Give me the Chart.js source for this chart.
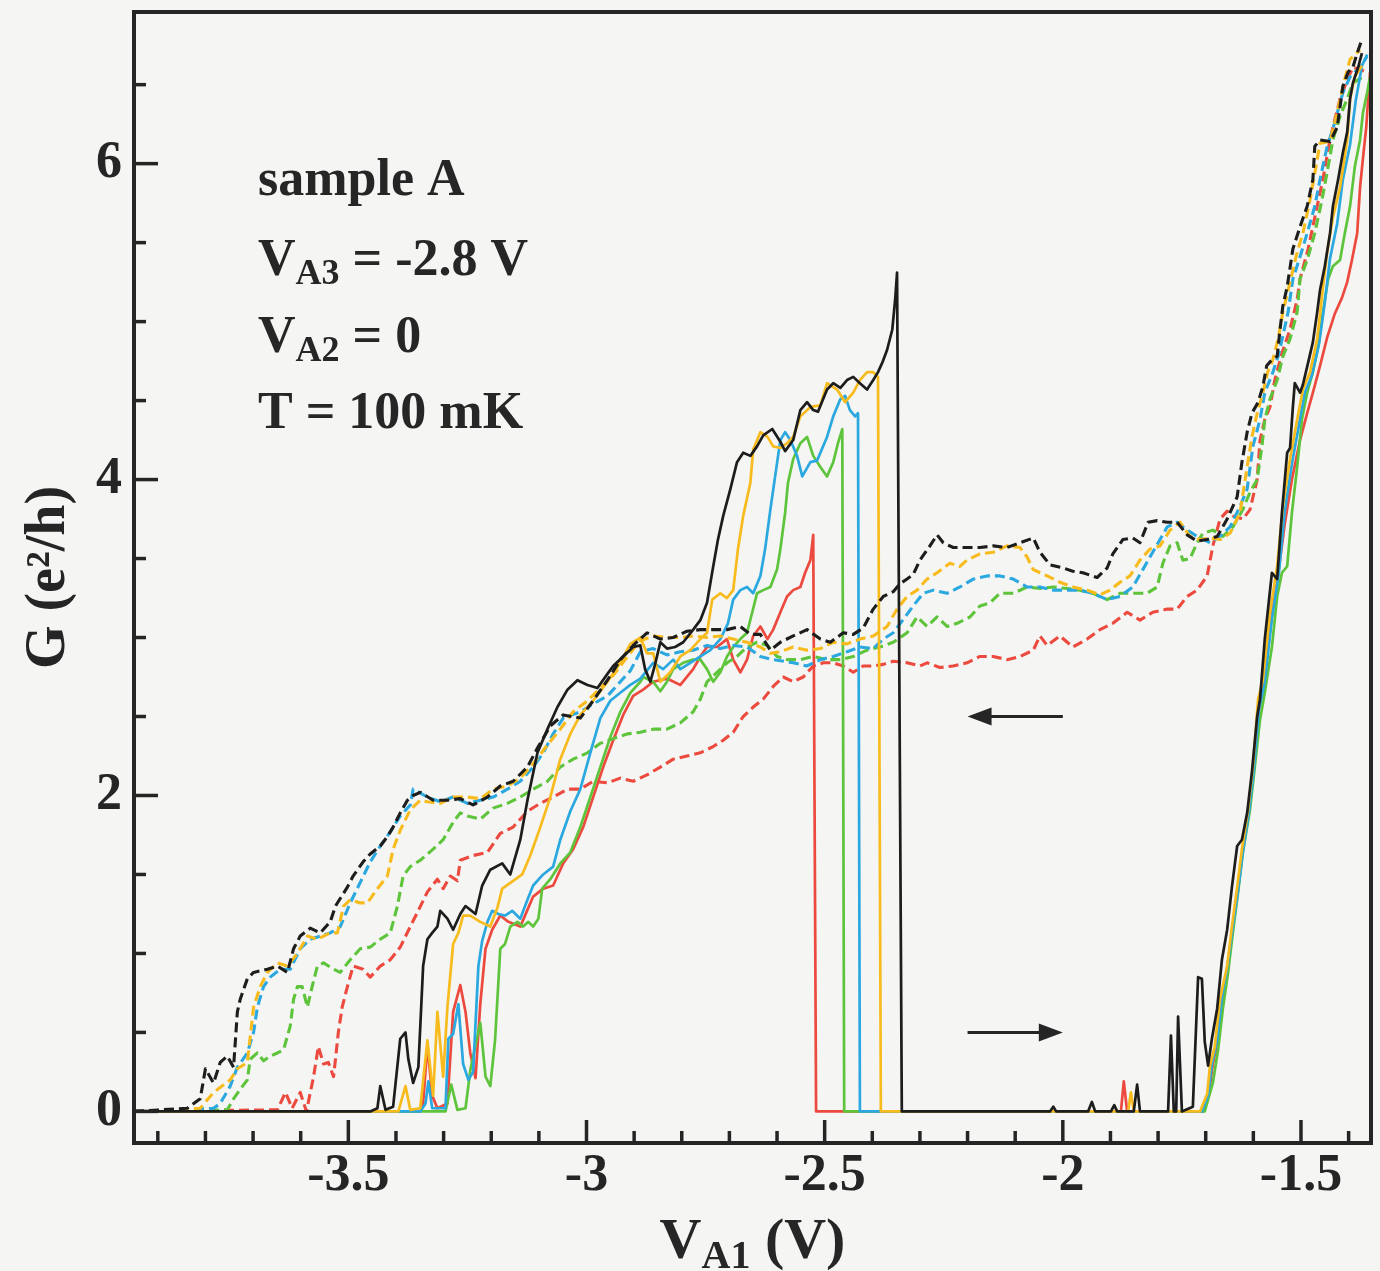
<!DOCTYPE html>
<html><head><meta charset="utf-8">
<script src="https://cdn.jsdelivr.net/npm/chart.js@4.4.1/dist/chart.umd.min.js"></script>
<style>
html,body{margin:0;padding:0;background:#f5f5f3;}
#wrap{width:1380px;height:1271px;}
canvas{display:block;}
</style></head><body>
<div id="wrap"><canvas id="c" width="1380" height="1271"></canvas></div>
<script>
// ---------- tick values ----------
const xTickLabels = [-3.5, -3, -2.5, -2, -1.5];
const xMinorTicks = [-3.9,-3.8,-3.7,-3.6,-3.4,-3.3,-3.2,-3.1,-2.9,-2.8,-2.7,-2.6,-2.4,-2.3,-2.2,-2.1,-1.9,-1.8,-1.7,-1.6,-1.4];
const yTickLabels = [0, 2, 4, 6];
const yMinorTicks = [0.5,1,1.5,2.5,3,3.5,4.5,5,5.5,6.5];

// ---------- series: forward sweeps (solid) ----------
const blackSolidX = [-3.95,-3.454,-3.439,-3.433,-3.422,-3.406,-3.391,-3.380,-3.374,-3.364,-3.353,-3.343,-3.334,-3.324,-3.313,-3.307,-3.292,-3.280,-3.265,-3.254,-3.233,-3.219,-3.202,-3.177,-3.160,-3.139,-3.124,-3.103,-3.082,-3.061,-3.040,-3.019,-2.998,-2.977,-2.956,-2.944,-2.923,-2.902,-2.887,-2.877,-2.866,-2.856,-2.845,-2.831,-2.814,-2.797,-2.776,-2.761,-2.747,-2.734,-2.724,-2.713,-2.698,-2.684,-2.671,-2.656,-2.642,-2.629,-2.610,-2.593,-2.583,-2.566,-2.551,-2.537,-2.524,-2.514,-2.495,-2.482,-2.467,-2.453,-2.440,-2.426,-2.411,-2.398,-2.388,-2.379,-2.369,-2.358,-2.352,-2.348,-2.338,-2.027,-2.020,-2.014,-1.947,-1.939,-1.932,-1.899,-1.892,-1.886,-1.851,-1.844,-1.838,-1.779,-1.773,-1.767,-1.762,-1.758,-1.750,-1.727,-1.716,-1.708,-1.702,-1.695,-1.687,-1.676,-1.666,-1.655,-1.645,-1.634,-1.624,-1.613,-1.603,-1.592,-1.586,-1.576,-1.561,-1.550,-1.540,-1.529,-1.523,-1.517,-1.513,-1.502,-1.496,-1.485,-1.475,-1.466,-1.460,-1.450,-1.439,-1.433,-1.422,-1.412,-1.403,-1.397,-1.391,-1.380,-1.372];
const blackSolidY = [0,0,0.02,0.16,0.01,0.03,0.46,0.50,0.33,0.18,0.28,0.92,1.09,1.13,1.17,1.27,1.22,1.15,1.25,1.30,1.25,1.43,1.53,1.57,1.50,1.72,1.97,2.27,2.42,2.56,2.67,2.73,2.70,2.68,2.77,2.82,2.88,2.94,2.95,2.80,2.72,2.83,2.97,2.93,2.94,2.97,3.05,3.11,3.22,3.45,3.62,3.77,3.94,4.11,4.17,4.15,4.21,4.28,4.32,4.24,4.18,4.25,4.44,4.49,4.44,4.43,4.57,4.61,4.58,4.63,4.65,4.61,4.57,4.63,4.68,4.74,4.82,4.95,5.14,5.31,0,0,0.03,0,0,0.06,0,0,0.04,0,0,0.17,0,0,0.48,0,0,0.60,0,0.03,0.85,0.84,0.44,0.29,0.46,0.65,0.96,1.15,1.42,1.68,1.72,1.89,2.15,2.50,2.61,2.99,3.41,3.37,3.79,4.17,4.20,4.46,4.61,4.55,4.60,4.74,4.87,5.06,5.20,5.35,5.56,5.73,5.90,6.07,6.20,6.41,6.51,6.61,6.70];

const yellowSolidX = [-3.95,-3.395,-3.380,-3.370,-3.349,-3.334,-3.322,-3.313,-3.301,-3.292,-3.280,-3.269,-3.259,-3.244,-3.223,-3.202,-3.187,-3.177,-3.154,-3.135,-3.118,-3.097,-3.076,-3.055,-3.034,-3.013,-2.986,-2.956,-2.929,-2.908,-2.887,-2.873,-2.860,-2.845,-2.824,-2.803,-2.782,-2.761,-2.747,-2.736,-2.719,-2.705,-2.692,-2.682,-2.671,-2.656,-2.650,-2.635,-2.620,-2.608,-2.593,-2.579,-2.566,-2.551,-2.530,-2.509,-2.495,-2.474,-2.457,-2.440,-2.426,-2.411,-2.398,-2.388,-2.382,-1.863,-1.857,-1.851,-1.712,-1.697,-1.691,-1.681,-1.670,-1.655,-1.645,-1.634,-1.624,-1.611,-1.601,-1.590,-1.580,-1.565,-1.550,-1.538,-1.523,-1.508,-1.496,-1.481,-1.466,-1.456,-1.445,-1.433,-1.418,-1.403,-1.397,-1.387,-1.372];
const yellowSolidY = [0,0,0.16,0.01,0.02,0.45,0.10,0.63,0.22,0.66,1.06,1.13,1.24,1.24,1.20,1.17,1.29,1.41,1.46,1.50,1.62,1.80,1.99,2.23,2.39,2.51,2.60,2.72,2.84,2.96,3.00,2.90,2.90,2.72,2.78,2.88,2.92,2.99,3.03,3.24,3.28,3.25,3.30,3.56,3.77,3.98,4.19,4.30,4.27,4.21,4.20,4.23,4.27,4.40,4.46,4.47,4.61,4.57,4.49,4.55,4.63,4.68,4.68,4.65,0,0,0.12,0,0,0.11,0.29,0.41,0.71,0.92,1.17,1.42,1.66,1.91,2.18,2.61,2.73,3.16,3.45,3.83,4.13,4.38,4.57,4.68,4.89,5.16,5.44,5.66,5.85,6.15,6.41,6.55,6.62];

const cyanSolidX = [-3.95,-3.349,-3.338,-3.332,-3.324,-3.296,-3.290,-3.280,-3.269,-3.259,-3.248,-3.238,-3.227,-3.219,-3.208,-3.198,-3.185,-3.171,-3.156,-3.139,-3.124,-3.112,-3.091,-3.070,-3.055,-3.034,-3.013,-2.992,-2.971,-2.950,-2.929,-2.908,-2.887,-2.860,-2.839,-2.818,-2.803,-2.782,-2.761,-2.740,-2.719,-2.703,-2.692,-2.677,-2.663,-2.650,-2.635,-2.625,-2.614,-2.604,-2.593,-2.583,-2.572,-2.558,-2.547,-2.530,-2.516,-2.495,-2.482,-2.467,-2.457,-2.447,-2.436,-2.430,-2.426,-1.708,-1.695,-1.687,-1.676,-1.666,-1.653,-1.643,-1.632,-1.622,-1.609,-1.599,-1.588,-1.576,-1.561,-1.546,-1.534,-1.519,-1.504,-1.492,-1.477,-1.462,-1.450,-1.439,-1.424,-1.412,-1.397,-1.385,-1.372,-1.361];
const cyanSolidY = [0,0,0.05,0.19,0.02,0.02,0.46,0.49,0.68,0.30,0.20,0.25,0.92,1.08,1.20,1.27,1.25,1.24,1.27,1.22,1.34,1.43,1.50,1.55,1.72,1.90,2.04,2.27,2.49,2.60,2.65,2.70,2.74,2.84,2.80,2.86,2.80,2.84,2.88,2.92,2.99,3.09,3.24,3.30,3.32,3.28,3.39,3.56,3.81,4.02,4.25,4.30,4.25,4.15,4.02,4.11,4.12,4.27,4.40,4.51,4.53,4.44,4.40,4.42,0,0,0.10,0.30,0.45,0.72,0.94,1.17,1.40,1.64,1.90,2.16,2.55,2.72,3.12,3.42,3.80,4.10,4.35,4.55,4.66,4.86,5.12,5.40,5.62,5.90,6.12,6.40,6.62,6.69];

const greenSolidX = [-3.95,-3.296,-3.284,-3.271,-3.254,-3.244,-3.233,-3.223,-3.212,-3.202,-3.192,-3.181,-3.171,-3.160,-3.145,-3.133,-3.122,-3.112,-3.101,-3.093,-3.076,-3.055,-3.034,-3.013,-2.992,-2.971,-2.950,-2.929,-2.908,-2.887,-2.881,-2.860,-2.845,-2.831,-2.818,-2.797,-2.776,-2.761,-2.747,-2.734,-2.719,-2.705,-2.692,-2.677,-2.663,-2.652,-2.642,-2.629,-2.614,-2.600,-2.593,-2.583,-2.577,-2.566,-2.551,-2.537,-2.524,-2.509,-2.495,-2.482,-2.472,-2.463,-2.459,-1.702,-1.685,-1.674,-1.664,-1.653,-1.643,-1.632,-1.622,-1.607,-1.597,-1.586,-1.576,-1.561,-1.550,-1.540,-1.529,-1.519,-1.508,-1.498,-1.487,-1.475,-1.464,-1.454,-1.443,-1.433,-1.418,-1.408,-1.397,-1.387,-1.376,-1.370,-1.361,-1.355];
const greenSolidY = [0,0,0.17,0.01,0.02,0.26,0.42,0.56,0.22,0.16,0.45,1.03,1.06,1.17,1.20,1.17,1.20,1.17,1.22,1.41,1.47,1.57,1.64,1.80,1.99,2.18,2.37,2.53,2.65,2.72,2.75,2.72,2.66,2.72,2.80,2.84,2.86,2.86,2.80,2.72,2.78,2.88,2.94,2.99,3.03,3.16,3.28,3.30,3.32,3.43,3.56,3.79,3.98,4.13,4.23,4.27,4.15,4.08,4.02,4.11,4.23,4.32,0,0,0.18,0.39,0.65,0.88,1.13,1.39,1.64,1.91,2.18,2.48,2.65,2.94,3.26,3.41,3.45,3.79,4.08,4.38,4.55,4.68,4.84,5.06,5.27,5.35,5.39,5.56,5.73,5.98,6.15,6.32,6.45,6.55];

const redSolidX = [-3.95,-3.349,-3.343,-3.334,-3.324,-3.313,-3.292,-3.280,-3.265,-3.254,-3.244,-3.233,-3.223,-3.212,-3.198,-3.181,-3.164,-3.139,-3.112,-3.091,-3.070,-3.049,-3.028,-3.007,-2.986,-2.965,-2.944,-2.923,-2.902,-2.881,-2.860,-2.831,-2.803,-2.776,-2.761,-2.747,-2.726,-2.705,-2.692,-2.677,-2.663,-2.650,-2.635,-2.620,-2.608,-2.593,-2.579,-2.566,-2.551,-2.541,-2.530,-2.524,-2.518,-1.878,-1.872,-1.865,-1.706,-1.693,-1.685,-1.674,-1.664,-1.653,-1.643,-1.632,-1.622,-1.609,-1.599,-1.588,-1.576,-1.563,-1.548,-1.534,-1.519,-1.502,-1.487,-1.475,-1.460,-1.445,-1.429,-1.414,-1.403,-1.393,-1.382,-1.376,-1.370,-1.363,-1.359,-1.355];
const redSolidY = [0,0,0.05,0.42,0.10,0.02,0.05,0.63,0.80,0.63,0.37,0.21,0.68,1.03,1.15,1.24,1.20,1.17,1.36,1.41,1.43,1.57,1.66,1.80,1.99,2.18,2.35,2.51,2.63,2.67,2.72,2.74,2.70,2.80,2.88,2.94,2.94,2.99,2.86,2.78,2.86,3.01,3.07,2.99,3.05,3.16,3.26,3.30,3.32,3.41,3.49,3.65,0,0,0.19,0,0,0.12,0.30,0.45,0.72,0.95,1.18,1.42,1.66,1.92,2.18,2.55,2.75,3.10,3.40,3.72,4.00,4.25,4.42,4.55,4.72,4.90,5.05,5.15,5.25,5.39,5.56,5.85,6.03,6.23,6.41,6.58];

// ---------- series: reverse sweeps (dashed) ----------
const blackDashX = [-3.95,-3.838,-3.811,-3.800,-3.783,-3.769,-3.754,-3.741,-3.733,-3.727,-3.712,-3.699,-3.670,-3.649,-3.628,-3.615,-3.601,-3.580,-3.559,-3.538,-3.527,-3.502,-3.490,-3.469,-3.454,-3.433,-3.418,-3.406,-3.391,-3.376,-3.364,-3.349,-3.322,-3.292,-3.265,-3.238,-3.208,-3.181,-3.154,-3.124,-3.103,-3.076,-3.049,-3.013,-2.986,-2.956,-2.929,-2.902,-2.873,-2.845,-2.818,-2.789,-2.761,-2.734,-2.705,-2.677,-2.656,-2.635,-2.614,-2.593,-2.566,-2.537,-2.509,-2.488,-2.461,-2.440,-2.419,-2.398,-2.377,-2.356,-2.342,-2.327,-2.314,-2.300,-2.279,-2.264,-2.251,-2.230,-2.201,-2.174,-2.146,-2.117,-2.090,-2.062,-2.048,-2.027,-1.999,-1.979,-1.958,-1.928,-1.907,-1.895,-1.874,-1.853,-1.838,-1.821,-1.802,-1.781,-1.760,-1.739,-1.718,-1.697,-1.676,-1.655,-1.643,-1.634,-1.624,-1.613,-1.603,-1.590,-1.580,-1.572,-1.561,-1.550,-1.544,-1.538,-1.529,-1.517,-1.502,-1.487,-1.475,-1.471,-1.460,-1.439,-1.424,-1.418,-1.412,-1.401,-1.391,-1.382,-1.374];
const blackDashY = [0,0.02,0.08,0.27,0.18,0.31,0.35,0.28,0.63,0.71,0.84,0.88,0.90,0.92,0.88,1.03,1.11,1.16,1.13,1.20,1.30,1.42,1.49,1.58,1.63,1.68,1.74,1.80,1.89,1.97,2.00,2.02,1.97,1.97,1.98,1.94,1.99,2.06,2.09,2.18,2.30,2.44,2.51,2.49,2.60,2.73,2.86,2.95,3.03,2.99,3.00,3.04,3.05,3.05,3.05,3.07,3.02,3.02,2.92,2.97,3.01,3.05,2.99,2.97,3.03,3.02,3.06,3.18,3.26,3.29,3.34,3.37,3.40,3.49,3.58,3.65,3.60,3.57,3.57,3.57,3.58,3.57,3.60,3.63,3.54,3.46,3.44,3.42,3.41,3.38,3.44,3.53,3.62,3.63,3.60,3.73,3.74,3.73,3.73,3.65,3.61,3.62,3.64,3.75,3.83,3.89,4.11,4.30,4.42,4.49,4.59,4.72,4.76,4.78,4.95,5.10,5.22,5.46,5.60,5.73,5.90,6.11,6.15,6.14,6.23,6.36,6.49,6.58,6.61,6.70,6.77];

const yellowDashX = [-3.95,-3.811,-3.783,-3.748,-3.733,-3.712,-3.699,-3.685,-3.670,-3.649,-3.628,-3.607,-3.586,-3.565,-3.538,-3.523,-3.510,-3.496,-3.475,-3.460,-3.439,-3.418,-3.406,-3.391,-3.370,-3.349,-3.334,-3.307,-3.280,-3.250,-3.223,-3.196,-3.166,-3.139,-3.112,-3.082,-3.055,-3.028,-2.998,-2.971,-2.944,-2.914,-2.887,-2.860,-2.831,-2.803,-2.776,-2.747,-2.719,-2.692,-2.663,-2.635,-2.614,-2.593,-2.566,-2.537,-2.509,-2.482,-2.453,-2.426,-2.398,-2.369,-2.348,-2.327,-2.306,-2.285,-2.264,-2.237,-2.216,-2.201,-2.174,-2.146,-2.117,-2.090,-2.075,-2.062,-2.033,-2.006,-1.979,-1.949,-1.922,-1.901,-1.880,-1.859,-1.838,-1.817,-1.796,-1.775,-1.754,-1.733,-1.712,-1.691,-1.670,-1.649,-1.628,-1.613,-1.603,-1.592,-1.580,-1.570,-1.559,-1.548,-1.538,-1.523,-1.508,-1.496,-1.481,-1.471,-1.460,-1.439,-1.424,-1.412,-1.397,-1.376];
const yellowDashY = [0,0.02,0.12,0.20,0.27,0.31,0.66,0.79,0.88,0.94,0.92,1.00,1.11,1.09,1.13,1.13,1.30,1.34,1.32,1.32,1.41,1.49,1.66,1.78,1.91,1.97,1.96,1.95,1.99,1.99,1.98,2.04,2.06,2.11,2.20,2.32,2.42,2.53,2.60,2.68,2.76,2.88,2.98,3.01,3.00,3.00,3.01,3.00,3.01,2.99,2.97,2.94,2.90,2.91,2.94,2.92,2.93,2.97,2.96,2.99,3.01,3.07,3.18,3.26,3.30,3.37,3.41,3.47,3.45,3.49,3.53,3.54,3.58,3.57,3.51,3.43,3.39,3.35,3.32,3.30,3.27,3.30,3.35,3.39,3.49,3.56,3.58,3.68,3.73,3.64,3.62,3.63,3.62,3.66,3.79,4.08,4.27,4.42,4.55,4.68,4.76,4.89,5.06,5.25,5.44,5.56,5.77,5.94,6.13,6.14,6.32,6.49,6.66,6.72];

const cyanDashX = [-3.95,-3.783,-3.769,-3.748,-3.733,-3.712,-3.699,-3.691,-3.678,-3.664,-3.643,-3.622,-3.601,-3.580,-3.559,-3.538,-3.517,-3.496,-3.475,-3.454,-3.433,-3.412,-3.391,-3.370,-3.364,-3.334,-3.307,-3.280,-3.250,-3.223,-3.196,-3.166,-3.139,-3.112,-3.091,-3.070,-3.049,-3.013,-2.986,-2.956,-2.929,-2.908,-2.887,-2.860,-2.831,-2.803,-2.776,-2.747,-2.719,-2.692,-2.663,-2.635,-2.608,-2.566,-2.537,-2.509,-2.482,-2.453,-2.426,-2.398,-2.377,-2.356,-2.336,-2.314,-2.293,-2.272,-2.243,-2.216,-2.188,-2.159,-2.132,-2.104,-2.075,-2.048,-2.020,-1.991,-1.964,-1.937,-1.907,-1.880,-1.853,-1.832,-1.817,-1.796,-1.781,-1.760,-1.739,-1.718,-1.691,-1.670,-1.649,-1.628,-1.613,-1.601,-1.586,-1.576,-1.559,-1.548,-1.538,-1.527,-1.517,-1.502,-1.487,-1.471,-1.460,-1.445,-1.433,-1.412,-1.397,-1.376,-1.361];
const cyanDashY = [0,0.02,0.05,0.16,0.28,0.37,0.50,0.66,0.79,0.85,0.90,0.90,1.03,1.09,1.11,1.13,1.17,1.32,1.45,1.58,1.68,1.77,1.87,1.94,2.04,1.99,1.96,1.99,1.95,1.97,1.99,2.04,2.09,2.18,2.27,2.39,2.49,2.53,2.58,2.63,2.72,2.79,2.91,2.93,2.89,2.91,2.92,2.95,2.93,2.95,2.94,2.88,2.86,2.84,2.82,2.86,2.88,2.91,2.94,2.93,2.99,3.03,3.11,3.20,3.28,3.30,3.28,3.32,3.37,3.39,3.39,3.37,3.32,3.32,3.30,3.30,3.30,3.28,3.24,3.26,3.32,3.43,3.51,3.62,3.70,3.73,3.68,3.64,3.60,3.64,3.70,3.83,3.94,4.21,4.38,4.55,4.68,4.78,4.91,5.06,5.27,5.41,5.56,5.73,5.90,6.11,6.22,6.45,6.55,6.61,6.68];

const greenDashX = [-3.95,-3.754,-3.741,-3.727,-3.712,-3.706,-3.691,-3.678,-3.664,-3.649,-3.636,-3.622,-3.615,-3.607,-3.597,-3.586,-3.576,-3.565,-3.552,-3.531,-3.517,-3.496,-3.475,-3.454,-3.433,-3.412,-3.397,-3.385,-3.370,-3.349,-3.322,-3.301,-3.280,-3.265,-3.250,-3.223,-3.196,-3.166,-3.139,-3.112,-3.082,-3.055,-3.028,-2.998,-2.971,-2.944,-2.914,-2.887,-2.860,-2.831,-2.803,-2.776,-2.761,-2.747,-2.726,-2.705,-2.684,-2.663,-2.642,-2.620,-2.600,-2.579,-2.551,-2.524,-2.495,-2.467,-2.440,-2.411,-2.384,-2.356,-2.327,-2.306,-2.285,-2.264,-2.243,-2.222,-2.195,-2.174,-2.153,-2.132,-2.104,-2.075,-2.048,-2.020,-1.991,-1.964,-1.937,-1.907,-1.880,-1.853,-1.823,-1.802,-1.790,-1.775,-1.760,-1.748,-1.733,-1.718,-1.706,-1.685,-1.664,-1.643,-1.622,-1.607,-1.592,-1.582,-1.576,-1.565,-1.550,-1.538,-1.523,-1.508,-1.502,-1.487,-1.471,-1.456,-1.443,-1.433,-1.418,-1.403,-1.391,-1.370];
const greenDashY = [0,0.01,0.08,0.14,0.20,0.33,0.37,0.32,0.35,0.37,0.39,0.54,0.71,0.79,0.79,0.66,0.79,0.92,0.94,0.90,0.88,0.96,1.03,1.04,1.09,1.13,1.30,1.49,1.55,1.59,1.66,1.72,1.83,1.89,1.87,1.85,1.92,1.95,1.99,2.04,2.09,2.18,2.23,2.27,2.33,2.36,2.39,2.40,2.42,2.42,2.46,2.53,2.61,2.72,2.78,2.84,2.88,2.94,2.97,2.95,2.88,2.86,2.86,2.88,2.86,2.86,2.88,2.92,2.94,2.97,3.03,3.13,3.07,3.13,3.07,3.09,3.13,3.20,3.22,3.28,3.28,3.32,3.31,3.32,3.31,3.30,3.28,3.24,3.28,3.28,3.28,3.32,3.47,3.58,3.60,3.49,3.50,3.60,3.66,3.68,3.64,3.70,3.81,3.92,4.00,4.21,4.38,4.51,4.63,4.78,4.89,5.06,5.27,5.39,5.56,5.77,5.98,6.15,6.30,6.41,6.51,6.55];

const redDashX = [-3.95,-3.649,-3.632,-3.618,-3.601,-3.588,-3.573,-3.563,-3.552,-3.542,-3.531,-3.521,-3.513,-3.502,-3.490,-3.469,-3.454,-3.433,-3.412,-3.391,-3.370,-3.355,-3.334,-3.313,-3.301,-3.286,-3.271,-3.265,-3.238,-3.208,-3.181,-3.154,-3.124,-3.097,-3.070,-3.040,-3.013,-2.986,-2.956,-2.929,-2.902,-2.873,-2.845,-2.818,-2.789,-2.761,-2.734,-2.713,-2.692,-2.671,-2.650,-2.629,-2.608,-2.587,-2.566,-2.545,-2.524,-2.503,-2.482,-2.461,-2.440,-2.419,-2.398,-2.377,-2.356,-2.327,-2.300,-2.285,-2.258,-2.230,-2.201,-2.174,-2.146,-2.117,-2.090,-2.062,-2.048,-2.033,-2.006,-1.979,-1.949,-1.922,-1.895,-1.865,-1.838,-1.811,-1.781,-1.760,-1.739,-1.718,-1.697,-1.685,-1.670,-1.655,-1.643,-1.622,-1.607,-1.592,-1.586,-1.576,-1.565,-1.555,-1.540,-1.523,-1.508,-1.502,-1.485,-1.471,-1.454,-1.443,-1.433,-1.418,-1.403,-1.391,-1.361];
const redDashY = [0,0.01,0.12,0.02,0.12,0.00,0.22,0.41,0.30,0.31,0.22,0.50,0.66,0.79,0.92,0.90,0.85,0.92,0.96,1.04,1.17,1.26,1.39,1.47,1.41,1.49,1.46,1.59,1.62,1.64,1.76,1.80,1.90,1.95,1.99,2.04,2.04,2.09,2.08,2.11,2.09,2.13,2.18,2.23,2.25,2.27,2.31,2.35,2.40,2.50,2.56,2.61,2.69,2.75,2.72,2.75,2.82,2.84,2.84,2.82,2.78,2.82,2.82,2.83,2.85,2.84,2.82,2.84,2.81,2.82,2.84,2.88,2.88,2.86,2.88,2.92,3.01,2.95,3.01,2.94,2.99,3.05,3.09,3.16,3.11,3.16,3.18,3.18,3.26,3.30,3.39,3.58,3.75,3.80,3.77,3.75,3.81,4.00,4.25,4.38,4.46,4.63,4.80,4.95,5.14,5.27,5.46,5.66,5.90,6.09,6.23,6.41,6.53,6.61,6.58];

// ---------- styling ----------
const COL = {black:'#1d1d1d', yellow:'#f8bb1e', cyan:'#2aa8df', green:'#5ec43b', red:'#ec4a3e'};
const INK = '#252525';
const SERIF = '"Liberation Serif", "Times New Roman", serif';
const DASH = [10, 5];

const series = [
  {x: blackSolidX, y: blackSolidY, c: COL.black, d: []},
  {x: blackDashX, y: blackDashY, c: COL.black, d: DASH},
  {x: yellowSolidX, y: yellowSolidY, c: COL.yellow, d: []},
  {x: yellowDashX, y: yellowDashY, c: COL.yellow, d: DASH},
  {x: cyanSolidX, y: cyanSolidY, c: COL.cyan, d: []},
  {x: cyanDashX, y: cyanDashY, c: COL.cyan, d: DASH},
  {x: greenSolidX, y: greenSolidY, c: COL.green, d: []},
  {x: greenDashX, y: greenDashY, c: COL.green, d: DASH},
  {x: redSolidX, y: redSolidY, c: COL.red, d: []},
  {x: redDashX, y: redDashY, c: COL.red, d: DASH}
];

const datasets = series.map(s => ({
  data: s.x.map((x, i) => ({x: x, y: s.y[i]})),
  borderColor: s.c,
  borderWidth: s.d.length ? 3.1 : 2.7,
  borderDash: s.d,
  pointRadius: 0,
  fill: false,
  tension: 0,
  borderJoinStyle: 'round',
  borderCapStyle: 'butt'
}));

function drawSubText(ctx, x, y, main, sub, rest, size, subSize, drop) {
  ctx.textAlign = 'left';
  ctx.textBaseline = 'alphabetic';
  ctx.font = 'bold ' + size + 'px ' + SERIF;
  ctx.fillText(main, x, y);
  x += ctx.measureText(main).width;
  if (sub) {
    ctx.font = 'bold ' + subSize + 'px ' + SERIF;
    ctx.fillText(sub, x, y + drop);
    x += ctx.measureText(sub).width;
  }
  if (rest) {
    ctx.font = 'bold ' + size + 'px ' + SERIF;
    ctx.fillText(rest, x, y);
  }
}
function measureSub(ctx, main, sub, rest, size, subSize) {
  ctx.font = 'bold ' + size + 'px ' + SERIF;
  let w = ctx.measureText(main).width + ctx.measureText(rest).width;
  ctx.font = 'bold ' + subSize + 'px ' + SERIF;
  return w + ctx.measureText(sub).width;
}

const decor = {
  id: 'decor',
  beforeDraw(chart) {
    const ctx = chart.ctx;
    ctx.save();
    ctx.fillStyle = '#f5f5f3';
    ctx.fillRect(0, 0, chart.width, chart.height);
    ctx.restore();
  },
  afterDatasetsDraw(chart) {
    const ctx = chart.ctx;
    const a = chart.chartArea;
    const xs = chart.scales.x, ys = chart.scales.y;
    ctx.save();
    ctx.strokeStyle = INK;
    ctx.fillStyle = INK;
    // frame
    ctx.lineWidth = 4;
    ctx.strokeRect(a.left, a.top, a.right - a.left, a.bottom - a.top);
    // inward ticks
    ctx.lineWidth = 3.5;
    ctx.lineCap = 'butt';
    const tk = (x1, y1, x2, y2) => { ctx.beginPath(); ctx.moveTo(x1, y1); ctx.lineTo(x2, y2); ctx.stroke(); };
    xTickLabels.forEach(v => { const p = xs.getPixelForValue(v); tk(p, a.bottom, p, a.bottom - 23); });
    xMinorTicks.forEach(v => { const p = xs.getPixelForValue(v); tk(p, a.bottom, p, a.bottom - 12); });
    yTickLabels.forEach(v => { const p = ys.getPixelForValue(v); tk(a.left, p, a.left + 24, p); });
    yMinorTicks.forEach(v => { const p = ys.getPixelForValue(v); tk(a.left, p, a.left + 12, p); });
    // arrows (data coordinates)
    const arrow = (xFrom, xTo, yv) => {
      const x1 = xs.getPixelForValue(xFrom), x2 = xs.getPixelForValue(xTo), y = ys.getPixelForValue(yv);
      const dir = Math.sign(x2 - x1);
      ctx.lineWidth = 3;
      tk(x1, y, x2 - dir * 18, y);
      ctx.beginPath();
      ctx.moveTo(x2, y);
      ctx.lineTo(x2 - dir * 24, y - 9);
      ctx.lineTo(x2 - dir * 24, y + 9);
      ctx.closePath();
      ctx.fill();
    };
    arrow(-2.0, -2.2, 2.5);
    arrow(-2.2, -2.0, 0.5);
    // annotation block
    const tx = a.left + 124;
    ctx.fillStyle = '#262626';
    drawSubText(ctx, tx, a.top + 183, 'sample A', '', '', 52, 36, 0);
    drawSubText(ctx, tx, a.top + 263, 'V', 'A3', ' = -2.8 V', 52, 36, 9);
    drawSubText(ctx, tx, a.top + 340, 'V', 'A2', ' = 0', 52, 36, 9);
    drawSubText(ctx, tx, a.top + 416, 'T = 100 mK', '', '', 52, 36, 0);
    // x-axis title with subscript
    const w = measureSub(ctx, 'V', 'A1', ' (V)', 58, 40);
    const cx = (a.left + a.right) / 2;
    drawSubText(ctx, cx - w / 2, 1258, 'V', 'A1', ' (V)', 58, 40, 10);
    ctx.restore();
  }
};

const tickFont = {family: SERIF, size: 52, weight: 'bold'};

new Chart(document.getElementById('c'), {
  type: 'line',
  data: {datasets: datasets},
  options: {
    responsive: false,
    animation: false,
    devicePixelRatio: 1,
    layout: {padding: {top: 12, right: 9, left: 0, bottom: 0}},
    plugins: {legend: {display: false}, tooltip: {enabled: false}},
    scales: {
      x: {
        type: 'linear', min: -3.95, max: -1.353,
        grid: {display: false, drawTicks: false},
        border: {display: false},
        ticks: {font: tickFont, color: INK, padding: 2, maxRotation: 0, autoSkip: false, callback: v => String(v)},
        afterBuildTicks: s => { s.ticks = xTickLabels.map(v => ({value: v})); },
        afterFit: s => { s.height = 128; s.paddingLeft = 0; s.paddingRight = 0; }
      },
      y: {
        type: 'linear', min: -0.2, max: 6.96,
        grid: {display: false, drawTicks: false},
        border: {display: false},
        ticks: {font: tickFont, color: INK, padding: 12, autoSkip: false, callback: v => String(v)},
        afterBuildTicks: s => { s.ticks = yTickLabels.map(v => ({value: v})); },
        title: {display: true, text: 'G (e²/h)', color: INK, font: {family: SERIF, size: 56, weight: 'bold'}, padding: {top: 16, bottom: 0}},
        afterFit: s => { s.width = 134; s.paddingTop = 0; s.paddingBottom = 0; }
      }
    }
  },
  plugins: [decor]
});
</script>
</body></html>
